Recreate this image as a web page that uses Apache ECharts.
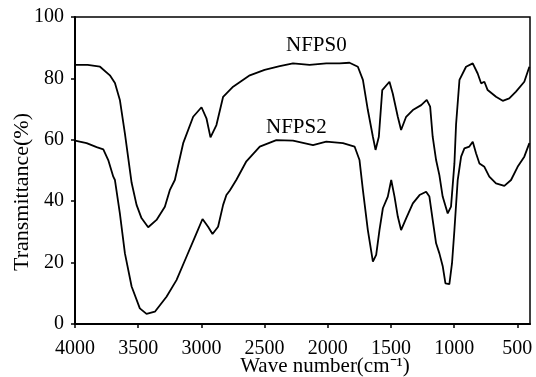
<!DOCTYPE html>
<html>
<head>
<meta charset="utf-8">
<script src="https://cdn.jsdelivr.net/npm/echarts@6/dist/echarts.min.js"></script>
<style>
    html, body { margin: 0; padding: 0; background: #fff; }
    #ftir { width: 536px; height: 377px; }
</style>
</head>
<body>
<div id="ftir"></div>
<script>
// wave numbers (cm-1) and transmittance (%)
var wave0 = [4000, 3900, 3802, 3724, 3684, 3645, 3605, 3552, 3513, 3474, 3421, 3355, 3289, 3250, 3210,
    3144, 3065, 2999, 2960, 2928, 2881, 2828, 2749, 2617, 2500, 2380, 2275, 2144, 2012, 1907, 1828,
    1762, 1722, 1683, 1643, 1622, 1596, 1569, 1512, 1486, 1446, 1420, 1380, 1327, 1261, 1217, 1190,
    1170, 1143, 1117, 1091, 1051, 1025, 998, 985, 958, 906, 853, 814, 787, 761, 735, 669, 616, 564,
    511, 445, 405];
var nfps0 = [84.4, 84.4, 83.8, 81, 78.5, 73, 62, 46, 38.8, 34.5, 31.5, 33.9, 38.2, 43.6, 46.9,
    58.9, 67.5, 70.6, 67, 60.8, 64.8, 74, 77.3, 81, 82.8, 84, 84.9, 84.4, 84.9, 84.9, 85.1,
    83.8, 79.5, 69.7, 61, 56.7, 61, 76.2, 78.9, 75.1, 67.5, 63.2, 67.5, 69.7, 71.3, 73, 70.8,
    61, 53.4, 48.5, 41.5, 36, 38.2, 52.3, 65, 79.5, 83.8, 84.9, 81.6, 78.4, 78.9, 76.2, 74, 72.7, 73.5,
    75.7, 78.9, 83.8];

var wave2 = [4000, 3908, 3829, 3776, 3737, 3697, 3684, 3645, 3605, 3552, 3487, 3434, 3368, 3276, 3197,
    3118, 3039, 2991, 2947, 2912, 2868, 2828, 2802, 2775, 2723, 2644, 2538, 2407, 2275, 2117, 2012,
    1880, 1788, 1749, 1722, 1683, 1643, 1617, 1591, 1564, 1525, 1498, 1472, 1446, 1420, 1380, 1327,
    1274, 1222, 1196, 1170, 1143, 1117, 1090, 1069, 1038, 1017, 998, 972, 945, 919, 880, 853, 827,
    800, 761, 722, 669, 603, 550, 498, 445, 405];
var nfps2 = [59.7, 58.9, 57.6, 56.9, 53.4, 48, 46.9, 36, 23, 12.2, 5.1, 3.3, 4, 8.9, 14.3,
    21.9, 29.5, 34.2, 31.7, 29.3, 31.7, 38.8, 42, 43.5, 47, 53, 57.8, 59.9, 59.7, 58.3, 59.4,
    58.9, 57.8, 53.4, 43.6, 30.6, 20.3, 22.5, 30.6, 37.7, 41.5, 46.9, 41.5, 35, 30.6, 34.4, 39.3,
    42, 43.1, 41.5, 33.9, 26.3, 23, 18.7, 13.2, 13, 19.8, 30.6, 46.9, 54.5, 57.2, 57.8, 59.4, 55.6,
    52.3, 51.2, 48, 45.8, 45, 46.9, 51.2, 54.5, 58.9];

var xTicks = [4000, 3500, 3000, 2500, 2000, 1500, 1000, 500];
var yTicks = [0, 20, 40, 60, 80, 100];

function pairs(xs, ys){
    var out = [];
    for(var i = 0; i < xs.length; i++){
        out.push([xs[i], ys[i]]);
    }
    return out;
}

var font = 'Liberation Serif';
var chart = echarts.init(document.getElementById('ftir'));
var option = {
    animation: false,
    grid: {
        left: 75,
        right: 6,
        top: 17,
        bottom: 53,
        show: true,
        borderColor: '#000',
        borderWidth: 1.5
    },
    xAxis: {
        type: 'value',
        inverse: true,
        min: 400,
        max: 4000,
        axisLine: { show: true, lineStyle: { color: '#000', width: 2 } },
        axisTick: { show: true, length: 4, customValues: xTicks, lineStyle: { color: '#000', width: 1.5 } },
        axisLabel: {
            customValues: xTicks,
            formatter: function(v){ return String(v); },
            fontFamily: font, fontSize: 20, color: '#000', margin: 15
        },
        splitLine: { show: false }
    },
    yAxis: {
        type: 'value',
        min: 0,
        max: 100,
        interval: 20,
        axisLine: { show: true, lineStyle: { color: '#000', width: 2 } },
        axisTick: { show: true, length: 4, customValues: yTicks, lineStyle: { color: '#000', width: 1.5 } },
        axisLabel: { customValues: yTicks, fontFamily: font, fontSize: 20, color: '#000', margin: 11 },
        splitLine: { show: false }
    },
    series: [
        {
            name: 'NFPS0',
            type: 'line',
            showSymbol: false,
            data: pairs(wave0, nfps0),
            lineStyle: { color: '#000', width: 1.8 }
        },
        {
            name: 'NFPS2',
            type: 'line',
            showSymbol: false,
            data: pairs(wave2, nfps2),
            lineStyle: { color: '#000', width: 1.8 }
        }
    ],
    graphic: [
        { type: 'text', left: 286, top: 35, style: { text: 'NFPS0', font: '21px "Liberation Serif"', fill: '#000' } },
        { type: 'text', left: 266, top: 117, style: { text: 'NFPS2', font: '21px "Liberation Serif"', fill: '#000' } },
        { type: 'text', x: 325, y: 366, style: { text: 'Wave number(cm⁻¹)', font: '21px "Liberation Serif"', fill: '#000', align: 'center', verticalAlign: 'middle' } },
        { type: 'text', x: 22, y: 192, rotation: Math.PI / 2, style: { text: 'Transmittance(%)', font: '22px "Liberation Serif"', fill: '#000', align: 'center', verticalAlign: 'middle' } }
    ]
};
chart.setOption(option);
</script>
</body>
</html>
